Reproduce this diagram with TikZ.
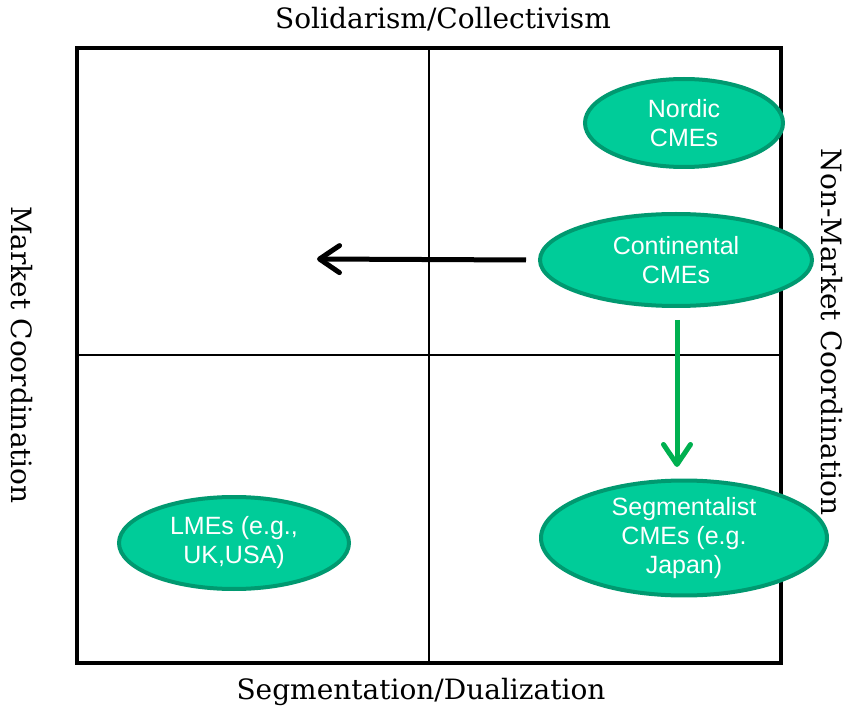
\documentclass[tikz,border=0pt]{standalone}
\usepackage{fontspec}
\setmainfont{DejaVu Serif}
\newfontfamily\ellfont{Liberation Sans}
\usetikzlibrary{shapes.geometric,arrows.meta}
\definecolor{ellfill}{HTML}{00CC99}
\definecolor{elledge}{HTML}{009970}
\definecolor{arrgreen}{HTML}{00B050}
\tikzset{
  regime/.style={ellipse, fill=ellfill, draw=elledge, line width=4pt,
    inner sep=0pt, text=white, align=center,
    font=\ellfont\fontsize{25}{29}\selectfont},
  axislabel/.style={font=\fontsize{28}{32}\selectfont, inner sep=0pt},
  moveline/.style={line width=5pt, -{Straight Barb[length=20pt,width=27pt,line width=5pt,round]}}
}
\begin{document}
\begin{tikzpicture}[x=1pt,y=-1pt]
\useasboundingbox (0,0) rectangle (847,714);
% quadrant grid
\draw[line width=1.3pt] (429,48) -- (429,663);
\draw[line width=1.3pt] (77,355) -- (781,355);
\draw[line width=4pt] (77,48) rectangle (781,663);
% axis labels
\node[axislabel] (top) at (443,19) {Solidarism/Collectivism};
\node[axislabel] (bottom) at (421,692) {Segmentation/Dualization};
\node[axislabel, rotate=-90] (left) at (22,355) {Market Coordination};
\node[axislabel, rotate=-90] (right) at (832,332) {Non-Market Coordination};
% regimes
\node[regime, minimum width=198pt, minimum height=88pt] (nordic) at (684,123) {Nordic\\CMEs};
\node[regime, minimum width=272pt, minimum height=92pt] (cont) at (676,260) {Continental\\CMEs};
\node[regime, minimum width=286pt, minimum height=110pt] (seg) at (684,538) {Segmentalist\\CMEs (e.g.\\Japan)};
\node[regime, minimum width=230pt, minimum height=92pt] (lme) at (234,543) {LMEs (e.g.,\\UK,USA)};
% trajectories
\coordinate (westend) at (317,259);
\draw[moveline] ([xshift=-12pt]cont.west) -- (westend);
\coordinate (southend) at (677,467);
\draw[moveline, draw=arrgreen] ([yshift=-12pt]cont.south -| southend) -- (southend);
\end{tikzpicture}
\end{document}
